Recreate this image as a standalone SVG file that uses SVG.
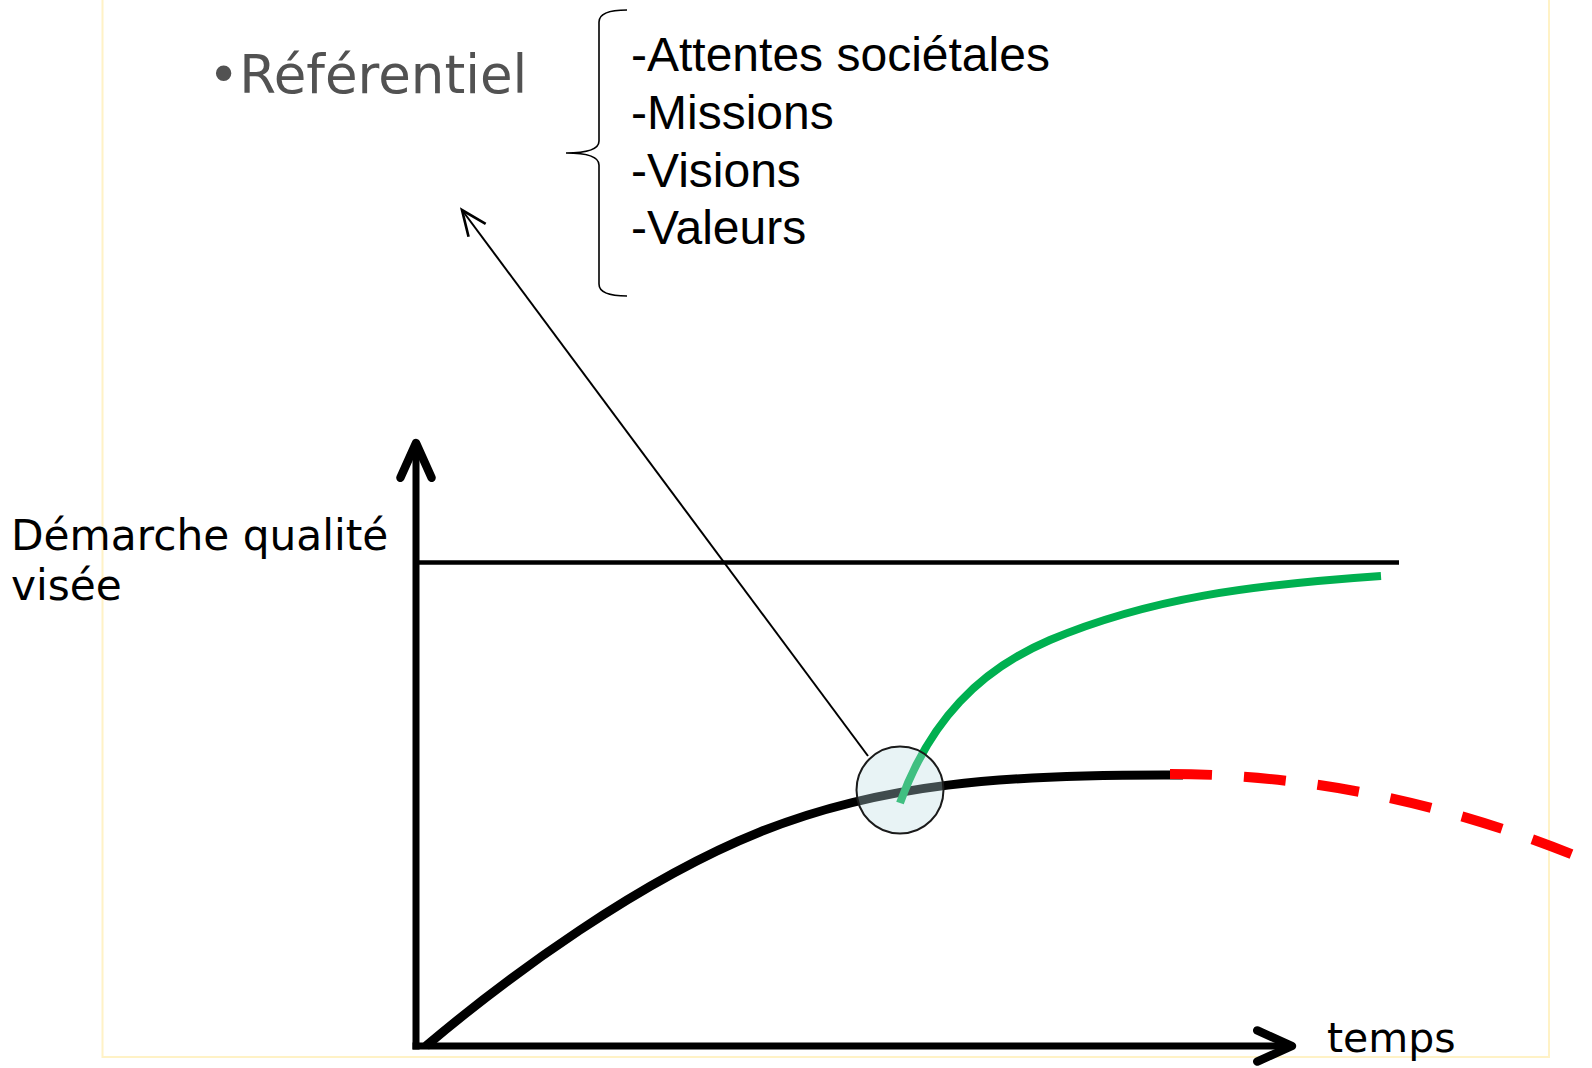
<svg xmlns="http://www.w3.org/2000/svg" width="1592" height="1068" viewBox="0 0 1592 1068">
<style>
.lbl{font-family:"DejaVu Sans",Verdana,sans-serif;fill:#000}
.lst{font-family:"Liberation Sans",Arial,sans-serif;font-size:48px;fill:#000}
.ax{stroke:#000;stroke-width:7;fill:none}
</style>
<defs>
<marker id="axh" markerUnits="userSpaceOnUse" markerWidth="60" markerHeight="60" viewBox="-40 -20 50 40" refX="0" refY="0" orient="auto" overflow="visible">
<path d="M-29,-13 L0,0 L-29,13" fill="none" stroke="#000" stroke-width="7" stroke-linecap="round" stroke-linejoin="round"/>
</marker>
<marker id="ptr" markerUnits="userSpaceOnUse" markerWidth="40" markerHeight="40" viewBox="-25 -15 30 30" refX="0" refY="0" orient="auto" overflow="visible">
<path d="M-19,-8 L0,0 L-19,8" fill="none" stroke="#000" stroke-width="2"/>
</marker>
</defs>
<rect width="1592" height="1068" fill="#fff"/>
<rect x="102.5" y="-10" width="1446.5" height="1067" fill="none" stroke="#fff2c6" stroke-width="2"/>
<g id="label-referentiel">
<text class="lbl" x="208" y="93" font-size="53" style="fill:#525252">•Référentiel</text>
</g>
<g id="list">
<path d="M627,10 Q599,10 599,22 L599,141 Q599,153 566,153 Q599,153 599,165 L599,284 Q599,296 627,296" fill="none" stroke="#000" stroke-width="1.6"/>
<text class="lst" x="631" y="71">-Attentes sociétales</text>
<text class="lst" x="631" y="129">-Missions</text>
<text class="lst" x="631" y="186.5">-Visions</text>
<text class="lst" x="631" y="244">-Valeurs</text>
</g>
<g id="label-y">
<text class="lbl" x="11" y="550" font-size="42.3">Démarche qualité</text>
<text class="lbl" x="11" y="600" font-size="42.3">visée</text>
</g>
<g id="label-x">
<text class="lbl" x="1327" y="1052" font-size="41">temps</text>
</g>
<g id="connectors">
<line class="ax" x1="416" y1="1049.5" x2="416" y2="443" marker-end="url(#axh)"/>
<line class="ax" x1="412.5" y1="1046" x2="1292" y2="1046" marker-end="url(#axh)"/>
<line x1="419" y1="562.5" x2="1399" y2="562.5" stroke="#000" stroke-width="4.5"/>
<line x1="868" y1="756" x2="462" y2="210" stroke="#000" stroke-width="2" marker-end="url(#ptr)"/>
</g>
<g id="curve-actual">
<path d="M426,1046 C510,975 640,880 760,832 C880,784 1000,774 1183,775" fill="none" stroke="#000" stroke-width="9"/>
</g>
<g id="curve-decline">
<path d="M1170,774 Q1385,774 1600,866" fill="none" stroke="#ff0000" stroke-width="10" stroke-dasharray="42 32"/>
</g>
<g id="curve-improved">
<path d="M900,803 C930,720 980,670 1050,640 C1150,598 1250,585 1381,576" fill="none" stroke="#00b050" stroke-width="8"/>
</g>
<g id="focus-circle">
<circle cx="900" cy="790" r="43.5" fill="rgb(187,220,225)" fill-opacity="0.34" stroke="#1a1a1a" stroke-width="2"/>
</g>
</svg>
